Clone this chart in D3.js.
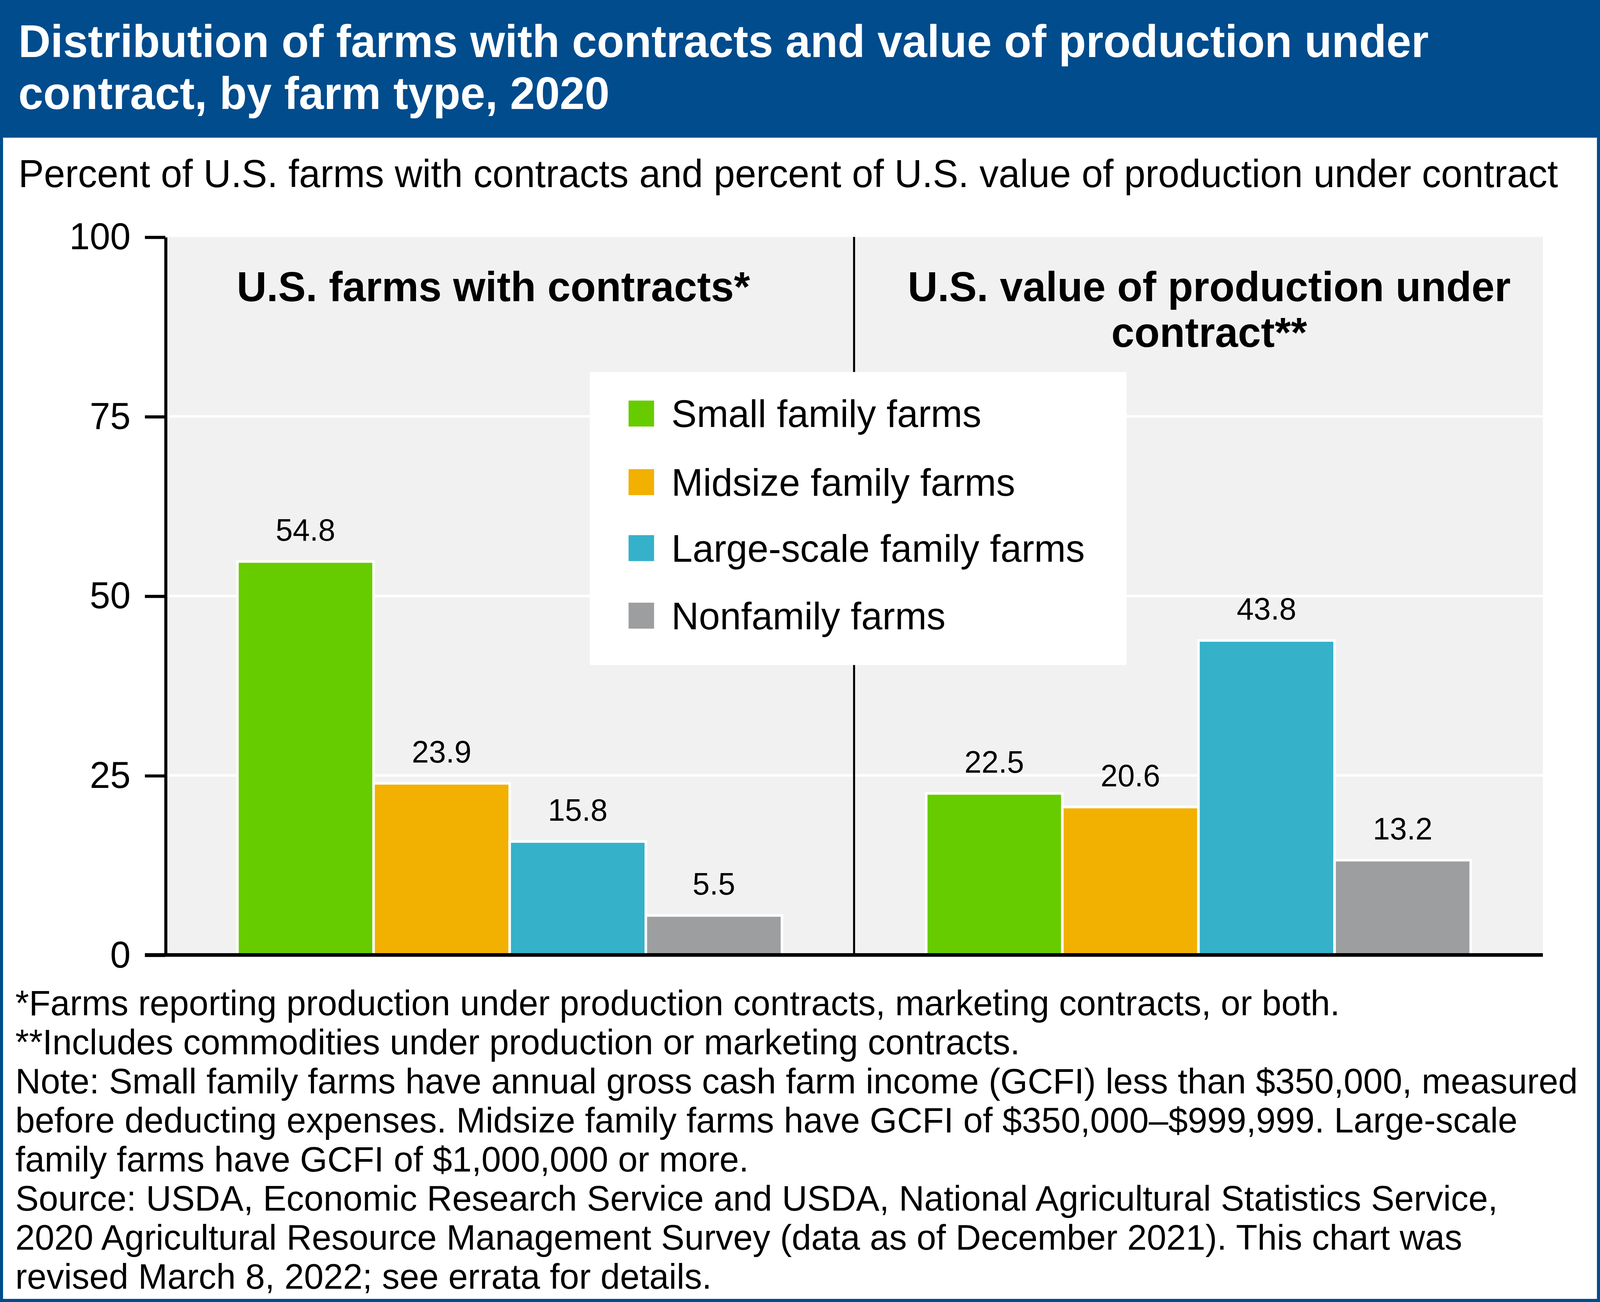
<!DOCTYPE html>
<html>
<head>
<meta charset="utf-8">
<script src="https://cdn.jsdelivr.net/npm/d3@7"></script>
<style>
  html, body { margin: 0; padding: 0; background: #fff; overflow: hidden; width: 100%; height: 100%; }
  svg { display: block; position: absolute; left: 0; top: 0; width: 100vw; height: 100vh; }
  text { font-family: "Liberation Sans", Arial, Helvetica, sans-serif; }
</style>
</head>
<body>
<script>
// ---------- data ----------
const series = ["Small family farms", "Midsize family farms", "Large-scale family farms", "Nonfamily farms"];
const seriesColors = ["#66CC00", "#F2B000", "#35B1C9", "#9D9E9F"];
const panels = ["farms", "value"];
const farmsWithContracts = [54.8, 23.9, 15.8, 5.5];
const valueUnderContract = [22.5, 20.6, 43.8, 13.2];
const yTicks = [0, 25, 50, 75, 100];
const panelTitleLines = [["U.S. farms with contracts*"], ["U.S. value of production under", "contract**"]];
const titleLines = ["Distribution of farms with contracts and value of production under", "contract, by farm type, 2020"];
const subtitle = "Percent of U.S. farms with contracts and percent of U.S. value of production under contract";
const footnoteLines = [
  "*Farms reporting production under production contracts, marketing contracts, or both.",
  "**Includes commodities under production or marketing contracts.",
  "Note: Small family farms have annual gross cash farm income (GCFI) less than $350,000, measured",
  "before deducting expenses. Midsize family farms have GCFI of $350,000\u2013$999,999. Large-scale",
  "family farms have GCFI of $1,000,000 or more.",
  "Source: USDA, Economic Research Service and USDA, National Agricultural Statistics Service,",
  "2020 Agricultural Resource Management Survey (data as of December 2021). This chart was",
  "revised March 8, 2022; see errata for details."
];
const panelValues = [farmsWithContracts, valueUnderContract];

// ---------- layout ----------
const W = 1568, H = 1253;
const BLUE = "#014C8D";
const plot = { left: 162, right: 1512, top: 228, bottom: 919 };

const svg = d3.select("body").append("svg")
  .attr("viewBox", `0 0 ${W} ${H}`)
  .attr("preserveAspectRatio", "none");

svg.append("rect").attr("x", 0).attr("y", 0).attr("width", W).attr("height", H).attr("fill", "#fff");

// header
svg.append("rect").attr("x", 0).attr("y", 0).attr("width", W).attr("height", 132.5).attr("fill", BLUE);
svg.append("g").selectAll("text").data(titleLines).join("text")
  .attr("x", 18).attr("y", (d, i) => 55 + i * 50)
  .attr("fill", "#fff").attr("font-weight", "bold").attr("font-size", 43.8)
  .text(d => d);

// frame
svg.append("rect").attr("x", 1.5).attr("y", 1.5).attr("width", W - 3).attr("height", H - 3)
  .attr("fill", "none").attr("stroke", BLUE).attr("stroke-width", 3);

// subtitle
svg.append("text").attr("x", 18).attr("y", 180).attr("font-size", 37.5).attr("fill", "#000").text(subtitle);

// scales
const y = d3.scaleLinear().domain([0, 100]).range([plot.bottom, plot.top]);
const xPanel = d3.scaleBand().domain(panels).range([plot.left, plot.right]).padding(0);
const xBar = d3.scaleBand().domain(series).range([0, xPanel.bandwidth()]).paddingInner(0).paddingOuter(0.53);
const color = d3.scaleOrdinal().domain(series).range(seriesColors);

// plot background
svg.append("rect").attr("x", plot.left).attr("y", y(100))
  .attr("width", plot.right - plot.left).attr("height", y(0) - y(100)).attr("fill", "#F1F1F1");

// gridlines
svg.append("g").selectAll("line").data(yTicks.filter(t => t > 0 && t < 100)).join("line")
  .attr("x1", plot.left).attr("x2", plot.right)
  .attr("y1", d => y(d)).attr("y2", d => y(d))
  .attr("stroke", "#fff").attr("stroke-width", 2.5);

// panel divider
svg.append("line").attr("x1", xPanel("value")).attr("x2", xPanel("value"))
  .attr("y1", y(100)).attr("y2", y(0)).attr("stroke", "#000").attr("stroke-width", 2);

// panel titles
const panelTitleX = [483.5, 1185];
panels.forEach((p, pi) => {
  svg.append("g").selectAll("text").data(panelTitleLines[pi]).join("text")
    .attr("x", panelTitleX[pi]).attr("y", (d, i) => 290 + i * 44)
    .attr("text-anchor", "middle").attr("font-weight", "bold").attr("font-size", 40.6)
    .attr("fill", "#000").text(d => d);
});

// bars
panels.forEach((p, pi) => {
  const g = svg.append("g").attr("transform", `translate(${xPanel(p)},0)`);
  const data = series.map((s, i) => ({ s, v: panelValues[pi][i] }));
  g.selectAll("rect").data(data).join("rect")
    .attr("x", d => xBar(d.s)).attr("y", d => y(d.v))
    .attr("width", xBar.bandwidth()).attr("height", d => y(0) - y(d.v))
    .attr("fill", d => color(d.s)).attr("stroke", "#fff").attr("stroke-width", 2.5);
  g.selectAll("text").data(data).join("text")
    .attr("x", d => xBar(d.s) + xBar.bandwidth() / 2).attr("y", d => y(d.v) - 20)
    .attr("text-anchor", "middle").attr("font-size", 30).attr("fill", "#000")
    .text(d => d.v.toFixed(1));
});

// legend
const lg = svg.append("g");
lg.append("rect").attr("x", 578).attr("y", 358).attr("width", 526).attr("height", 282).attr("fill", "#fff");
const legendRowY = [398, 464, 527.5, 592.5];
const items = lg.selectAll("g.item").data(series).join("g").attr("class", "item")
  .attr("transform", (d, i) => `translate(616,${legendRowY[i]})`);
items.append("rect").attr("x", 0).attr("y", -12.5).attr("width", 25).attr("height", 25).attr("fill", d => color(d));
items.append("text").attr("x", 42).attr("y", 13).attr("font-size", 37.2).attr("fill", "#000").text(d => d);

// y axis
const yAxis = d3.axisLeft(y).tickValues(yTicks).tickSize(20).tickSizeOuter(0).tickPadding(14);
const ya = svg.append("g").attr("transform", `translate(${plot.left},0)`).call(yAxis);
ya.select(".domain").attr("stroke", "#000").attr("stroke-width", 3);
ya.selectAll(".tick line").attr("stroke", "#000").attr("stroke-width", 3);
ya.selectAll(".tick text").attr("font-size", 36).attr("fill", "#000")
  .attr("font-family", "\"Liberation Sans\", Arial, sans-serif");

// baseline
svg.append("line").attr("x1", plot.left - 20).attr("x2", plot.right)
  .attr("y1", y(0)).attr("y2", y(0)).attr("stroke", "#000").attr("stroke-width", 3.5);

// footnotes
svg.append("g").selectAll("text").data(footnoteLines).join("text")
  .attr("x", 15).attr("y", (d, i) => 977 + i * 37.6)
  .attr("font-size", 34.4).attr("fill", "#000").text(d => d);
</script>
</body>
</html>
